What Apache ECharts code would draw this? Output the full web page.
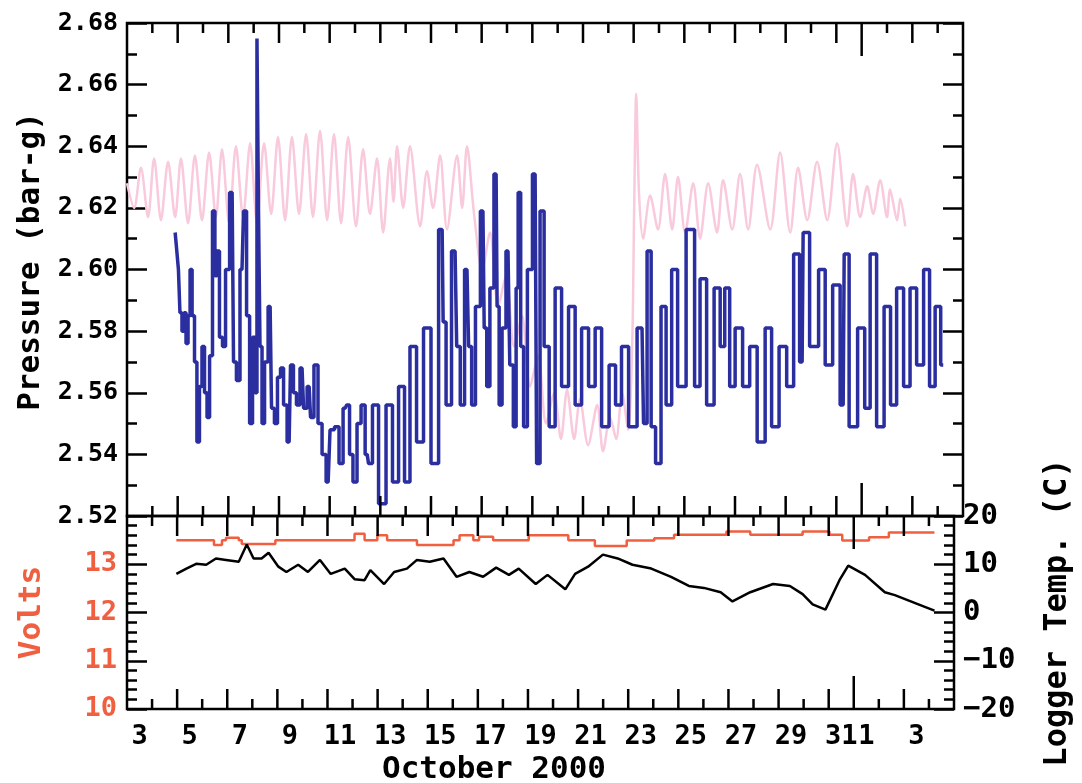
<!DOCTYPE html>
<html>
<head>
<meta charset="utf-8">
<script src="https://cdn.jsdelivr.net/npm/echarts@6/dist/echarts.min.js"></script>
<style>
  html, body { margin: 0; padding: 0; background: #fff; }
  #chart { width: 1082px; height: 783px; }
</style>
</head>
<body>
<div id="chart"></div>
<script>
// x values are days counted from Sep 30, 2000 (Oct 3 = 3, Nov 1 = 32, Nov 5 = 36)
const octLabelDays = [3, 5, 7, 9, 11, 13, 15, 17, 19, 21, 23, 25, 27, 29, 31]
const novLabelDays = [1, 3]
const longTicks = [5, 7, 9, 11, 13, 15, 17, 19, 21, 23, 25, 27, 29, 31, 34]
const monthTicks = [32]
const dayTicks = [4, 6, 8, 10, 12, 14, 16, 18, 20, 22, 24, 26, 28, 30, 33, 35]

// logger pressure (bar-g)
const pressure = [
  [4.90, 2.612], [5.01, 2.607], [5.05, 2.600], [5.13, 2.586], [5.21, 2.580], [5.29, 2.586],
  [5.37, 2.576], [5.45, 2.585], [5.53, 2.600], [5.61, 2.585], [5.72, 2.570], [5.80, 2.544],
  [5.92, 2.562], [6.00, 2.575], [6.12, 2.560], [6.20, 2.552], [6.32, 2.572], [6.43, 2.619],
  [6.51, 2.598], [6.59, 2.606], [6.71, 2.578], [6.83, 2.575], [6.95, 2.600], [7.15, 2.625],
  [7.26, 2.570], [7.38, 2.564], [7.54, 2.600], [7.66, 2.619], [7.78, 2.585], [7.90, 2.550],
  [8.01, 2.578], [8.09, 2.560], [8.17, 2.675], [8.21, 2.620], [8.29, 2.575], [8.37, 2.550],
  [8.49, 2.570], [8.65, 2.588], [8.76, 2.555], [8.88, 2.550], [9.00, 2.565], [9.12, 2.568],
  [9.24, 2.556], [9.40, 2.544], [9.51, 2.569], [9.63, 2.560], [9.75, 2.556], [9.91, 2.568],
  [10.03, 2.555], [10.19, 2.562], [10.30, 2.552], [10.46, 2.569], [10.62, 2.550], [10.78, 2.540],
  [10.94, 2.531], [11.09, 2.548], [11.29, 2.549], [11.45, 2.537], [11.61, 2.555], [11.73, 2.556],
  [11.84, 2.540], [12.00, 2.531], [12.16, 2.550], [12.32, 2.556], [12.48, 2.540], [12.59, 2.537],
  [12.79, 2.556], [13.07, 2.524], [13.38, 2.556], [13.58, 2.531], [13.86, 2.562], [14.05, 2.531],
  [14.29, 2.575], [14.57, 2.544], [14.84, 2.581], [15.16, 2.537], [15.44, 2.613], [15.52, 2.583],
  [15.67, 2.556], [15.95, 2.606], [16.08, 2.575], [16.23, 2.556], [16.42, 2.600], [16.55, 2.575],
  [16.66, 2.556], [16.85, 2.588], [17.05, 2.619], [17.15, 2.581], [17.25, 2.562], [17.40, 2.594],
  [17.57, 2.631], [17.65, 2.588], [17.73, 2.556], [17.88, 2.581], [18.04, 2.606], [18.18, 2.569],
  [18.32, 2.549], [18.40, 2.594], [18.48, 2.625], [18.60, 2.575], [18.71, 2.549], [18.90, 2.600],
  [19.11, 2.631], [19.23, 2.537], [19.38, 2.619], [19.55, 2.575], [19.78, 2.549], [20.02, 2.594],
  [20.29, 2.562], [20.57, 2.588], [20.81, 2.556], [21.08, 2.581], [21.36, 2.562], [21.60, 2.581],
  [21.87, 2.549], [22.19, 2.569], [22.38, 2.556], [22.66, 2.575], [22.94, 2.549], [23.33, 2.581],
  [23.45, 2.550], [23.61, 2.606], [23.77, 2.549], [23.96, 2.537], [24.20, 2.588], [24.36, 2.556],
  [24.64, 2.600], [24.83, 2.562], [25.31, 2.613], [25.50, 2.562], [25.74, 2.597], [26.02, 2.556],
  [26.33, 2.594], [26.50, 2.575], [26.69, 2.594], [26.89, 2.562], [27.12, 2.581], [27.48, 2.562],
  [27.68, 2.575], [28.07, 2.544], [28.31, 2.581], [28.58, 2.549], [28.90, 2.575], [29.18, 2.562],
  [29.45, 2.605], [29.65, 2.570], [29.73, 2.612], [30.16, 2.575], [30.44, 2.600], [30.68, 2.569],
  [31.03, 2.595], [31.27, 2.556], [31.35, 2.605], [31.66, 2.549], [32.02, 2.581], [32.22, 2.555],
  [32.45, 2.605], [32.73, 2.549], [33.04, 2.588], [33.24, 2.556], [33.52, 2.594], [33.79, 2.562],
  [34.03, 2.594], [34.31, 2.569], [34.58, 2.600], [34.78, 2.562], [35.02, 2.588], [35.22, 2.569],
]

// faint trace showing through from the reverse of the page
const showThrough = [
  [3.00, 2.628], [3.28, 2.620], [3.55, 2.633], [3.83, 2.617], [4.07, 2.636], [4.34, 2.616],
  [4.62, 2.635], [4.90, 2.617], [5.13, 2.636], [5.41, 2.615], [5.68, 2.637], [5.96, 2.616],
  [6.24, 2.638], [6.51, 2.617], [6.75, 2.639], [7.03, 2.615], [7.30, 2.640], [7.58, 2.617],
  [7.86, 2.641], [8.13, 2.615], [8.41, 2.641], [8.69, 2.618], [8.96, 2.643], [9.24, 2.616],
  [9.51, 2.643], [9.79, 2.618], [10.07, 2.644], [10.34, 2.617], [10.62, 2.645], [10.90, 2.616],
  [11.17, 2.644], [11.45, 2.615], [11.73, 2.643], [12.04, 2.614], [12.32, 2.639], [12.59, 2.618],
  [12.87, 2.636], [13.11, 2.612], [13.38, 2.636], [13.52, 2.622], [13.66, 2.640], [13.90, 2.620],
  [14.17, 2.640], [14.57, 2.614], [14.84, 2.632], [15.08, 2.620], [15.36, 2.637], [15.63, 2.613],
  [16.03, 2.637], [16.23, 2.620], [16.42, 2.640], [16.70, 2.618], [17.02, 2.600], [17.33, 2.612],
  [17.65, 2.588], [17.96, 2.598], [18.28, 2.575], [18.59, 2.585], [18.91, 2.562], [19.23, 2.572],
  [19.54, 2.550], [19.86, 2.560], [20.13, 2.545], [20.37, 2.561], [20.65, 2.545], [20.88, 2.558],
  [21.20, 2.543], [21.56, 2.556], [21.79, 2.541], [22.07, 2.552], [22.31, 2.545], [22.54, 2.560],
  [22.78, 2.548], [22.94, 2.575], [23.02, 2.620], [23.10, 2.657], [23.21, 2.625], [23.37, 2.610],
  [23.65, 2.624], [23.96, 2.613], [24.24, 2.631], [24.52, 2.613], [24.75, 2.630], [25.03, 2.612],
  [25.35, 2.628], [25.62, 2.610], [25.94, 2.628], [26.29, 2.612], [26.53, 2.629], [26.89, 2.613],
  [27.20, 2.631], [27.52, 2.613], [27.87, 2.634], [28.39, 2.613], [28.78, 2.638], [29.18, 2.612],
  [29.49, 2.633], [29.85, 2.616], [30.24, 2.635], [30.64, 2.616], [31.03, 2.641], [31.43, 2.614],
  [31.66, 2.631], [31.94, 2.617], [32.22, 2.627], [32.45, 2.618], [32.73, 2.629], [33.00, 2.617],
  [33.12, 2.626], [33.40, 2.616], [33.52, 2.623], [33.72, 2.614],
]

// battery volts (held until the next reading)
const volts = [
  [4.97, 13.50], [6.47, 13.40], [6.79, 13.50], [6.95, 13.55], [7.46, 13.50], [7.58, 13.42],
  [8.92, 13.50], [12.08, 13.63], [12.48, 13.50], [12.99, 13.60], [13.38, 13.50], [14.57, 13.40],
  [16.03, 13.50], [16.27, 13.60], [16.82, 13.50], [17.05, 13.57], [17.61, 13.50], [19.03, 13.60],
  [20.61, 13.50], [21.67, 13.38], [22.94, 13.49], [24.04, 13.54], [24.83, 13.61], [26.92, 13.68],
  [27.87, 13.61], [29.96, 13.68], [31.03, 13.61], [31.54, 13.49], [32.61, 13.56], [33.40, 13.66],
  [35.22, 13.66],
]

// logger temperature (C)
const loggerTemp = [
  [4.97, 8.0], [5.37, 9.1], [5.76, 10.1], [6.16, 9.9], [6.55, 11.2], [6.95, 10.9], [7.46, 10.5],
  [7.78, 14.1], [8.05, 11.2], [8.37, 11.2], [8.65, 12.4], [9.04, 9.5], [9.36, 8.4], [9.83, 9.9],
  [10.22, 8.4], [10.70, 10.9], [11.13, 8.0], [11.69, 9.1], [12.08, 6.9], [12.48, 6.7], [12.71, 8.8],
  [13.26, 5.9], [13.66, 8.4], [14.17, 9.1], [14.57, 10.9], [15.08, 10.5], [15.63, 11.2], [16.15, 7.4],
  [16.66, 8.4], [17.21, 7.4], [17.73, 9.3], [18.24, 7.8], [18.63, 9.1], [19.31, 5.9], [19.78, 7.8],
  [20.49, 4.8], [20.88, 8.0], [21.40, 9.5], [21.99, 12.0], [22.58, 11.2], [23.17, 9.9], [23.92, 9.1],
  [24.71, 7.4], [25.42, 5.5], [26.02, 5.1], [26.69, 4.2], [27.16, 2.3], [27.87, 4.2], [28.78, 5.9],
  [29.45, 5.5], [29.96, 3.8], [30.36, 1.7], [30.87, 0.6], [31.43, 6.7], [31.78, 9.7], [32.45, 7.8],
  [33.24, 4.2], [33.64, 3.6], [34.58, 1.7], [35.22, 0.4],
]

const font = 'DejaVu Sans Mono'
const tickStyle = { color: '#000', width: 2.5 }
const labelPositions = octLabelDays.map(d => d + 0.5).concat(novLabelDays.map(d => 31 + d + 0.5))
const tickSets = [[dayTicks, 10], [longTicks, 20], [monthTicks, 33]]

const chart = echarts.init(document.getElementById('chart'))

// x ticks as short broken line pieces standing on the panel edges
// (pixel length / panel height * value span gives the length in axis units)
function edgeTickLine(xAxisIndex, yAxisIndex, yMin, yMax, panelHeight) {
  const perPx = (yMax - yMin) / panelHeight
  const data = []
  for (const [days, len] of tickSets) {
    for (const d of days) {
      data.push([d, yMax], [d, yMax - len * perPx], [d, null])
      data.push([d, yMin], [d, yMin + len * perPx], [d, null])
    }
  }
  return {
    type: 'line',
    xAxisIndex,
    yAxisIndex,
    data,
    showSymbol: false,
    connectNulls: false,
    silent: true,
    lineStyle: { color: '#000', width: 2.5, cap: 'butt' },
    z: 6,
  }
}

const option = {
  backgroundColor: '#fff',
  animation: false,
  grid: [
    { left: 127, right: 119, top: 23, height: 493, show: true, borderColor: '#000', borderWidth: 2.5 },
    { left: 127, right: 119, top: 516, height: 193, show: true, borderColor: '#000', borderWidth: 2.5 },
  ],
  xAxis: [
    { type: 'value', gridIndex: 0, min: 3, max: 36, show: false, axisLine: { onZero: false } },
    {
      type: 'value',
      gridIndex: 1,
      position: 'bottom',
      min: 3,
      max: 36,
      axisLine: { show: false, onZero: false },
      axisTick: { show: false },
      axisLabel: {
        customValues: labelPositions,
        formatter: v => {
          const d = Math.floor(v)
          return String(d > 31 ? d - 31 : d)
        },
        margin: 14,
        color: '#000',
        fontFamily: font,
        fontWeight: 'bold',
        fontSize: 27,
      },
      splitLine: { show: false },
    },
  ],
  yAxis: [
    {
      type: 'value',
      gridIndex: 0,
      position: 'left',
      min: 2.52,
      max: 2.68,
      interval: 0.02,
      name: 'Pressure (bar-g)',
      nameLocation: 'middle',
      nameRotate: 90,
      nameGap: 80,
      nameTextStyle: { color: '#000', fontFamily: font, fontWeight: 'bold', fontSize: 31, padding: [0, 0, 0, 16] },
      axisLine: { show: false },
      axisTick: { inside: true, length: 20, lineStyle: tickStyle },
      minorTick: { show: true, splitNumber: 2, length: 10, lineStyle: tickStyle },
      axisLabel: {
        formatter: v => v.toFixed(2),
        margin: 9,
        color: '#000',
        fontFamily: font,
        fontWeight: 'bold',
        fontSize: 25,
      },
      splitLine: { show: false },
    },
    {
      type: 'value',
      gridIndex: 0,
      position: 'right',
      min: 2.52,
      max: 2.68,
      interval: 0.02,
      axisLine: { show: false },
      axisTick: { inside: true, length: 20, lineStyle: tickStyle },
      minorTick: { show: true, splitNumber: 2, length: 10, lineStyle: tickStyle },
      axisLabel: { show: false },
      splitLine: { show: false },
    },
    {
      type: 'value',
      gridIndex: 1,
      position: 'left',
      min: 10,
      max: 14,
      interval: 1,
      name: 'Volts',
      nameLocation: 'middle',
      nameRotate: 90,
      nameGap: 80,
      nameTextStyle: { color: '#ef5f40', fontFamily: font, fontWeight: 'bold', fontSize: 31 },
      axisLine: { show: false },
      axisTick: { inside: true, length: 20, lineStyle: tickStyle },
      minorTick: { show: true, splitNumber: 5, length: 10, lineStyle: tickStyle },
      axisLabel: {
        showMaxLabel: false,
        margin: 10,
        color: '#ef5f40',
        fontFamily: font,
        fontWeight: 'bold',
        fontSize: 27,
      },
      splitLine: { show: false },
    },
    {
      type: 'value',
      gridIndex: 1,
      position: 'right',
      min: -20,
      max: 20,
      interval: 10,
      name: 'Logger Temp. (C)',
      nameLocation: 'middle',
      nameRotate: 90,
      nameGap: 88,
      nameTextStyle: { color: '#000', fontFamily: font, fontWeight: 'bold', fontSize: 32 },
      axisLine: { show: false },
      axisTick: { inside: true, length: 20, lineStyle: tickStyle },
      minorTick: { show: true, splitNumber: 5, length: 10, lineStyle: tickStyle },
      axisLabel: {
        formatter: v => (v < 0 ? '\u2212' + Math.abs(v) : String(v)),
        margin: 9,
        color: '#000',
        fontFamily: font,
        fontWeight: 'bold',
        fontSize: 29,
      },
      splitLine: { show: false },
    },
  ],
  graphic: [
    {
      type: 'text',
      x: 494,
      y: 770,
      style: {
        text: 'October 2000',
        align: 'center',
        verticalAlign: 'middle',
        fill: '#000',
        fontFamily: font,
        fontWeight: 'bold',
        fontSize: 31,
      },
    },
  ],
  series: [
    {
      name: 'show-through',
      type: 'line',
      xAxisIndex: 0,
      yAxisIndex: 0,
      data: showThrough,
      showSymbol: false,
      smooth: 0.3,
      lineStyle: { color: '#f9cadc', width: 2.5 },
      z: 1,
    },
    {
      name: 'Pressure',
      type: 'line',
      xAxisIndex: 0,
      yAxisIndex: 0,
      step: 'middle',
      data: pressure,
      showSymbol: false,
      lineStyle: { color: '#2b2e9f', width: 3.5 },
      z: 3,
    },
    {
      name: 'Volts',
      type: 'line',
      xAxisIndex: 1,
      yAxisIndex: 2,
      step: 'end',
      data: volts,
      showSymbol: false,
      lineStyle: { color: '#ef5f40', width: 2.5 },
    },
    {
      name: 'Logger Temp.',
      type: 'line',
      xAxisIndex: 1,
      yAxisIndex: 3,
      data: loggerTemp,
      showSymbol: false,
      lineStyle: { color: '#000', width: 2.5 },
    },
    edgeTickLine(0, 0, 2.52, 2.68, 493),
    edgeTickLine(1, 2, 10, 14, 193),
  ],
}

chart.setOption(option)
</script>
</body>
</html>
